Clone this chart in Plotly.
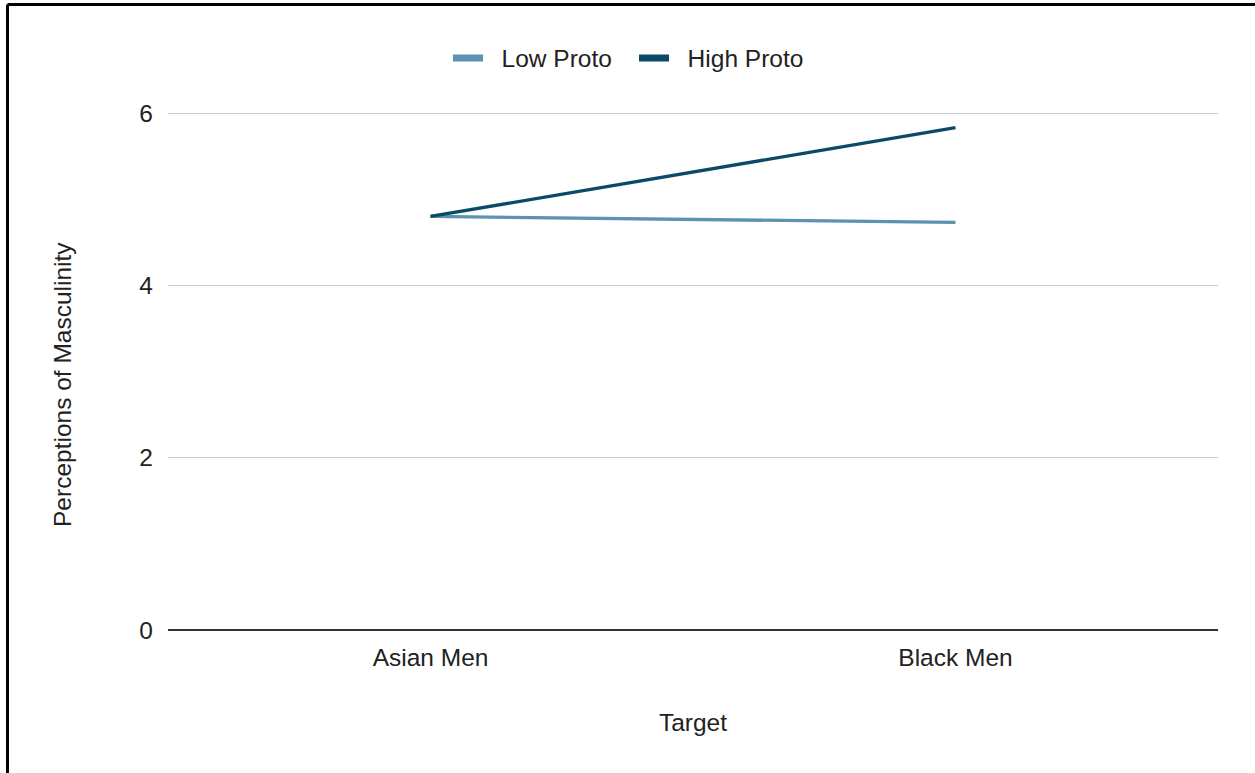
import plotly.graph_objects as go

# Group means for perceived masculinity by target group
targets = ["Asian Men", "Black Men"]
low_proto = [4.80, 4.73]
high_proto = [4.80, 5.83]
y_ticks = [0, 2, 4, 6]

series_names = ["Low Proto", "High Proto"]
series_colors = ["#5b93b1", "#0b4a66"]

W, H = 1255, 773
ML, MR, MT, MB = 168, 37, 100, 143
plot_w = W - ML - MR
plot_h = H - MT - MB
FS = 24.5
TXT = "#222222"
NB = "\u00a0"

fig = go.Figure()
for name, vals, color in zip(series_names, [low_proto, high_proto], series_colors):
    fig.add_trace(go.Scatter(
        x=targets, y=vals, name=name, mode="lines",
        line=dict(color=color, width=3.3), showlegend=False,
    ))
    # legend key drawn as a short thick bar
    fig.add_trace(go.Scatter(
        x=[None], y=[None], name=NB * 2 + name, mode="lines",
        line=dict(color=color, width=7), showlegend=True,
    ))


def px_x(px):
    return (px - ML) / plot_w


def px_y(py):
    return (H - MB - py) / plot_h


# Outer frame (top and left edges visible)
fig.add_shape(type="line", xref="paper", yref="paper",
              x0=px_x(7.5), x1=px_x(1300), y0=px_y(4.5), y1=px_y(4.5),
              line=dict(color="black", width=3))
fig.add_shape(type="line", xref="paper", yref="paper",
              x0=px_x(7.5), x1=px_x(7.5), y0=px_y(4.5), y1=px_y(800),
              line=dict(color="black", width=3))

# Vertical axis title
fig.add_annotation(
    text="Perceptions of Masculinity", textangle=-90,
    xref="paper", yref="paper", x=px_x(62), y=px_y(385),
    xanchor="center", yanchor="middle", showarrow=False,
    font=dict(size=FS, color=TXT),
)

fig.update_layout(
    width=W, height=H,
    margin=dict(l=ML, r=MR, t=MT, b=MB, autoexpand=False),
    paper_bgcolor="white", plot_bgcolor="white",
    font=dict(family="Liberation Sans, Arial, sans-serif", size=FS, color=TXT),
    showlegend=True,
    legend=dict(orientation="h", x=px_x(448), xanchor="left",
                y=px_y(58), yanchor="middle",
                font=dict(size=FS, color=TXT),
                itemwidth=30, entrywidth=141, traceorder="normal"),
    xaxis=dict(
        type="category", range=[-0.5, 1.5],
        showgrid=False, showline=False, zeroline=False,
        ticks="", tickfont=dict(size=FS, color=TXT),
        ticklabelstandoff=10,
        title=dict(text="Target", font=dict(size=FS, color=TXT), standoff=44),
        fixedrange=True,
    ),
    yaxis=dict(
        range=[0, 6 * plot_h / (H - MB - 113)],
        tickvals=y_ticks, ticktext=[str(v) for v in y_ticks],
        showgrid=True, gridcolor="#cccccc", gridwidth=1.3,
        zeroline=True, zerolinecolor="#333333", zerolinewidth=2,
        showline=False, ticks="",
        tickfont=dict(size=FS, color=TXT),
        ticklabelstandoff=14,
        fixedrange=True,
    ),
)

fig.write_html("out.html")
